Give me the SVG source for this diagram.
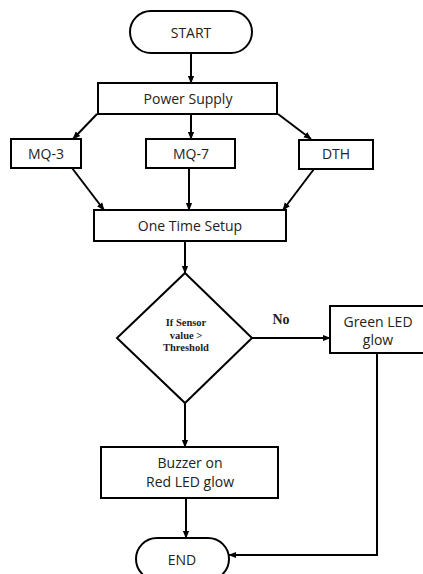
<svg xmlns="http://www.w3.org/2000/svg" width="423" height="574" viewBox="0 0 423 574">
<style>
.box{fill:#fff;stroke:#000;stroke-width:2}
.t{font-family:"Open Sans","Liberation Sans",sans-serif;font-size:14px;fill:#222;text-anchor:middle}
.d{font-family:"Liberation Serif",serif;font-size:10.5px;font-weight:bold;fill:#222;text-anchor:middle}
.c{fill:none;stroke:#000;stroke-width:2}
</style>
<defs>
<marker id="ah" viewBox="0 0 10 10" refX="9" refY="5" markerWidth="4" markerHeight="4" orient="auto" markerUnits="strokeWidth">
<path d="M0,1 L10,5 L0,9 z" fill="#000"/>
</marker>
</defs>
<rect width="423" height="574" fill="#fff"/>
<g id="connectors">
<line class="c" x1="191" y1="53" x2="191" y2="83" marker-end="url(#ah)"/>
<line class="c" x1="97" y1="114" x2="73" y2="139" marker-end="url(#ah)"/>
<line class="c" x1="191" y1="114" x2="191" y2="139" marker-end="url(#ah)"/>
<line class="c" x1="278" y1="114" x2="311" y2="139" marker-end="url(#ah)"/>
<line class="c" x1="72" y1="168" x2="104" y2="210" marker-end="url(#ah)"/>
<line class="c" x1="189" y1="168" x2="189" y2="210" marker-end="url(#ah)"/>
<line class="c" x1="314" y1="169" x2="283" y2="210" marker-end="url(#ah)"/>
<line class="c" x1="185" y1="241" x2="185" y2="273" marker-end="url(#ah)"/>
<line class="c" x1="252" y1="338" x2="330" y2="338" marker-end="url(#ah)"/>
<line class="c" x1="185" y1="403" x2="185" y2="447" marker-end="url(#ah)"/>
<line class="c" x1="186" y1="498" x2="186" y2="538" marker-end="url(#ah)"/>
<polyline class="c" points="377,353 377,555 229,555" marker-end="url(#ah)"/>
<text x="281" y="324" font-family="Liberation Serif,serif" font-size="14" font-weight="bold" text-anchor="middle" fill="#222">No</text>
</g>
<g id="start">
<rect class="box" x="130" y="11" width="122" height="42" rx="21"/>
<text class="t" x="191" y="38">START</text>
</g>
<g id="power">
<rect class="box" x="98" y="83" width="179" height="31"/>
<text class="t" x="188" y="104">Power Supply</text>
</g>
<g id="mq3">
<rect class="box" x="11" y="139" width="70" height="29"/>
<text class="t" x="46" y="159">MQ-3</text>
</g>
<g id="mq7">
<rect class="box" x="146" y="139" width="89" height="29"/>
<text class="t" x="191" y="159">MQ-7</text>
</g>
<g id="dth">
<rect class="box" x="299" y="140" width="74" height="29"/>
<text class="t" x="336" y="159">DTH</text>
</g>
<g id="setup">
<rect class="box" x="94" y="210" width="192" height="31"/>
<text class="t" x="190" y="231">One Time Setup</text>
</g>
<g id="decision">
<polygon class="box" points="185,273 252,338 185,403 117,338"/>
<text class="d" x="186" y="326">If Sensor</text>
<text class="d" x="186" y="339">value &gt;</text>
<text class="d" x="186" y="351">Threshold</text>
</g>
<g id="green">
<rect class="box" x="330" y="306" width="96" height="47"/>
<text class="t" x="378" y="327">Green LED</text>
<text class="t" x="378" y="345">glow</text>
</g>
<g id="buzzer">
<rect class="box" x="101" y="447" width="177" height="51"/>
<text class="t" x="190" y="468">Buzzer on</text>
<text class="t" x="190" y="487">Red LED glow</text>
</g>
<g id="end">
<rect class="box" x="136" y="538" width="93" height="42" rx="21"/>
<text class="t" x="182" y="565">END</text>
</g>
</svg>
